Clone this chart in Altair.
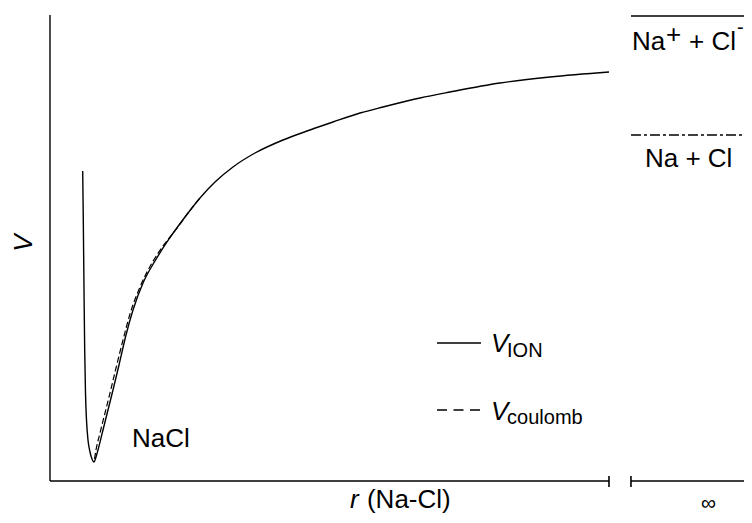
import altair as alt
import pandas as pd

# ---- data (r in arbitrary length units, V in arbitrary energy units) ----
ION_R = [1.755, 1.787, 1.825, 1.862, 1.905, 1.959, 2.039, 2.147, 2.254, 2.361,
         2.469, 2.576, 2.844, 3.113, 3.381, 3.703, 4.079, 4.454, 4.991, 5.635,
         6.279, 7.245, 8.050, 8.855, 9.821, 11.002, 12.504, 13.953, 15.188,
         16.637, 17.871, 19.857, 21.467, 24.150, 26.834, 30.000]
ION_V = [-2.000, -2.632, -3.535, -4.310, -4.865, -5.213, -5.471, -5.626, -5.716, -5.755,
         -5.690, -5.600, -5.342, -5.084, -4.826, -4.503, -4.116, -3.794, -3.445, -3.161,
         -2.916, -2.594, -2.348, -2.142, -1.948, -1.768, -1.600, -1.471, -1.368,
         -1.252, -1.174, -1.058, -0.981, -0.865, -0.787, -0.723]

COUL_R = [2.388, 2.469, 2.683, 2.952, 3.220, 3.542, 3.918, 4.293, 4.830, 5.474,
          6.118, 6.762, 7.514, 8.050]
COUL_V = [-5.716, -5.600, -5.381, -5.123, -4.865, -4.542, -4.181, -3.845, -3.497, -3.187,
          -2.950, -2.755, -2.508, -2.348]

LEVELS_V = [0.0, -1.535]          # Na+ + Cl-  /  Na + Cl
LEVEL_NAMES = ["ions", "atoms"]
AXIS_BOTTOM = -6.0
AXIS_TOP = 0.013
R_BREAK = 30.0
R_RESUME = 31.18
R_LEVEL_END = 37.51
R_EDGE = 37.3

xs = alt.Scale(domain=[-2.254, 37.246], nice=False, zero=False)
ys = alt.Scale(domain=[-6.439, 0.1032], nice=False, zero=False)
FONT = "Liberation Sans"


def X(f="r"):
    return alt.X(f"{f}:Q", scale=xs, axis=None)


def Y(f="V"):
    return alt.Y(f"{f}:Q", scale=ys, axis=None)


ion = pd.DataFrame({"r": ION_R, "V": ION_V, "i": range(len(ION_R))})
coul = pd.DataFrame({"r": COUL_R, "V": COUL_V, "i": range(len(COUL_R))})

ion_line = alt.Chart(ion).mark_line(color="black", strokeWidth=1.4, interpolate="monotone").encode(
    x=X(), y=Y(), order="i:Q")
coul_line = alt.Chart(coul).mark_line(color="black", strokeWidth=1.2, strokeDash=[6, 3],
                                      interpolate="monotone").encode(
    x=X(), y=Y(), order="i:Q")

# axes
yaxis = alt.Chart(pd.DataFrame({"r": [0.0], "V": [AXIS_BOTTOM], "V2": [AXIS_TOP]})).mark_rule(
    color="black", strokeWidth=1.4).encode(x=X(), y=Y(), y2="V2:Q")
xaxis = alt.Chart(pd.DataFrame({"r": [0.0, R_RESUME], "r2": [R_BREAK, R_EDGE],
                                "V": [AXIS_BOTTOM, AXIS_BOTTOM]})).mark_rule(
    color="black", strokeWidth=1.4).encode(x=X(), x2="r2:Q", y=Y())
ticks = alt.Chart(pd.DataFrame({"r": [R_BREAK, R_RESUME], "V": [-5.935, -5.935],
                                "V2": [-6.077, -6.077]})).mark_rule(
    color="black", strokeWidth=1.6).encode(x=X(), y=Y(), y2="V2:Q")

# asymptote levels
lev = pd.DataFrame({"r": [R_RESUME] * 2, "r2": [R_LEVEL_END] * 2, "V": LEVELS_V, "n": LEVEL_NAMES})
lev_solid = alt.Chart(lev[lev.n == "ions"]).mark_rule(color="black", strokeWidth=1.4).encode(
    x=X(), x2="r2:Q", y=Y())
lev_dash = alt.Chart(lev[lev.n == "atoms"]).mark_rule(color="black", strokeWidth=1.4,
                                                       strokeDash=[10, 3, 3, 3]).encode(
    x=X(), x2="r2:Q", y=Y())

# legend lines
leg = pd.DataFrame({"r": [20.77, 20.77], "r2": [23.13, 23.13], "V": [-4.219, -5.084], "k": ["ion", "coul"]})
leg_solid = alt.Chart(leg[leg.k == "ion"]).mark_rule(color="black", strokeWidth=1.4).encode(
    x=X(), x2="r2:Q", y=Y())
leg_dash = alt.Chart(leg[leg.k == "coul"]).mark_rule(color="black", strokeWidth=1.4,
                                                     strokeDash=[10, 6.5]).encode(
    x=X(), x2="r2:Q", y=Y())


def label(text, r, v, size=26, style="normal", align="left", angle=0, baseline="alphabetic"):
    return alt.Chart(pd.DataFrame({"r": [r], "V": [v]})).mark_text(
        text=text, font=FONT, fontSize=size, fontStyle=style, align=align,
        baseline=baseline, angle=angle, color="black").encode(x=X(), y=Y())


labels = [
    label("NaCl", 4.40, -5.561),
    label("Na", 31.24, -0.439),
    label("+", 33.06, -0.342),
    label("+ Cl", 34.30, -0.439),
    label("-", 36.87, -0.230, size=20),
    label("Na + Cl", 31.93, -1.948),
    label("V", 23.67, -4.335, style="italic"),
    label("ION", 24.53, -4.400, size=20),
    label("V", 23.67, -5.213, style="italic"),
    label("coulomb", 24.53, -5.265, size=20),
    label("r", 16.10, -6.348, style="italic"),
    label("(Na-Cl)", 17.01, -6.348),
    label("∞", 35.34, -6.374, size=21, align="center"),
    label("V", -1.395, -2.929, style="italic", align="center", angle=270, baseline="middle"),
]

chart = alt.layer(
    yaxis, xaxis, ticks, lev_solid, lev_dash, leg_solid, leg_dash, coul_line, ion_line, *labels
).properties(
    width=736, height=507, autosize=alt.AutoSizeParams(type="none"), padding=0
).configure_view(stroke=None)

chart.save("out.html", embed_options={"renderer": "svg", "actions": False})
